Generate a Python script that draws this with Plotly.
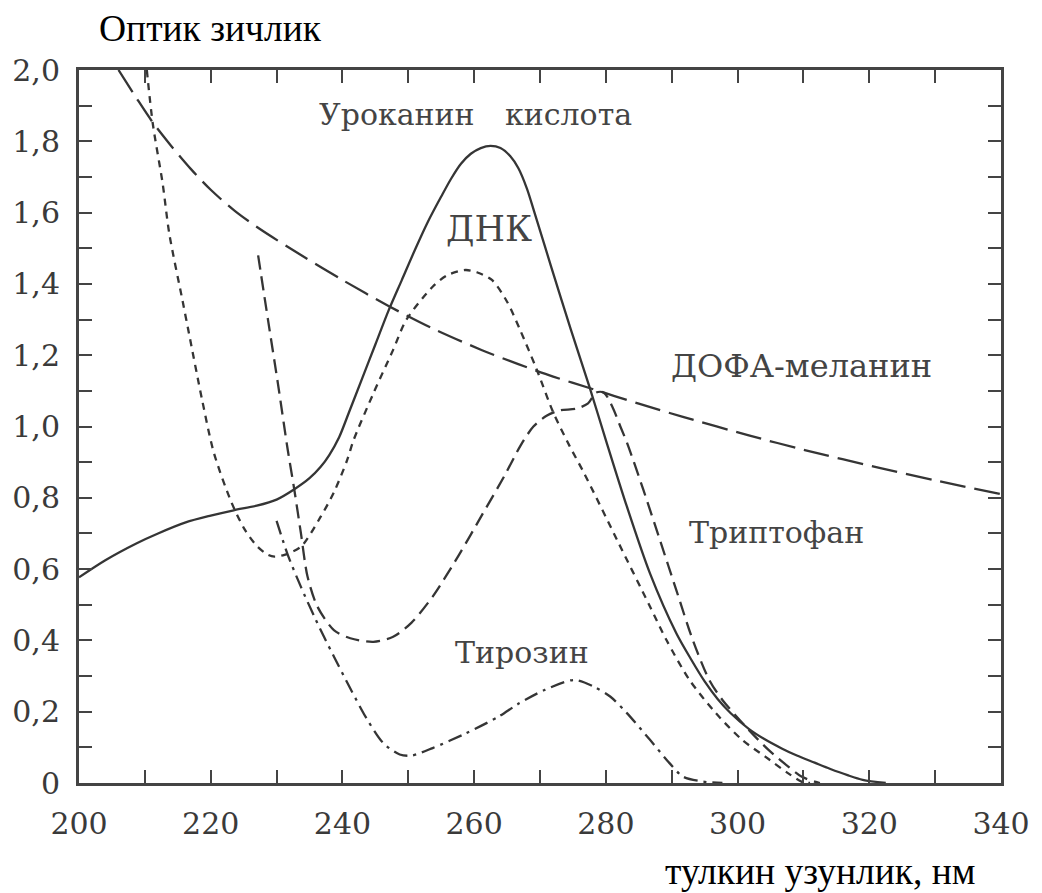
import plotly.graph_objects as go

# ---- data (wavelength nm, optical density) ----
uro_x = [200, 204, 208.7, 212, 216.2, 220, 223.5, 227, 230, 232.7, 235, 236.7, 238, 239.5, 241, 243, 245, 247, 249,
         251, 253, 255, 256.5, 258, 259.5, 261, 262.5, 264, 265.5, 266.7, 268, 269.2, 271.7, 274.7, 277.5, 280,
         283.2, 286.7, 290.7, 293, 295, 297, 299, 301.7, 304, 306.7, 309, 311.7, 314, 316.7, 319, 322.5]
uro_y = [0.577, 0.625, 0.672, 0.70, 0.731, 0.75, 0.765, 0.778, 0.795, 0.824, 0.855, 0.887, 0.92, 0.97, 1.04, 1.135,
         1.23, 1.325, 1.41, 1.495, 1.575, 1.645, 1.695, 1.737, 1.765, 1.781, 1.787, 1.781, 1.758, 1.725, 1.668,
         1.598, 1.448, 1.271, 1.112, 0.962, 0.775, 0.588, 0.42, 0.345, 0.285, 0.235, 0.195, 0.152, 0.124, 0.097,
         0.077, 0.057, 0.04, 0.022, 0.009, 0.0]

dna_x = [210.3, 211.2, 212.7, 213.7, 215.7, 216.7, 218.7, 220.5, 223.2, 225.2, 227, 228.7, 229.7, 231.2, 233.7, 236.7,
         238.7, 240.7, 241.7, 244.7, 247.7, 249.7, 253.7, 256, 258.7, 260.5, 262.7, 265, 267, 269.5, 272, 274.5,
         276.7, 281.7, 286.7, 289.2, 292.7, 296.7, 300.7, 304.2, 307.7, 309.7, 311]
dna_y = [2.0, 1.85, 1.682, 1.542, 1.355, 1.261, 1.074, 0.925, 0.785, 0.71, 0.665, 0.64, 0.635, 0.64, 0.663, 0.747,
         0.815, 0.905, 0.962, 1.093, 1.215, 1.299, 1.392, 1.425, 1.439, 1.432, 1.411, 1.35, 1.27, 1.16, 1.04, 0.945,
         0.869, 0.682, 0.495, 0.401, 0.289, 0.196, 0.121, 0.074, 0.027, 0.004, 0.0]

trp_x = [227.2, 228.7, 230.2, 231.7, 232.7, 233.7, 234.7, 236.2, 238.7, 241.2, 244.7, 247.7, 250.5, 253.7, 257.7,
         261.2, 264.7, 267, 269, 271, 273, 275.5, 277.3, 278.5, 279.7, 281, 282.2, 283.2, 285.7, 288.2, 290.7, 293.2,
         295.7, 297.7, 301.7, 304.7, 307.7, 309.7, 311.7, 312.5]
trp_y = [1.48, 1.299, 1.121, 0.934, 0.822, 0.70, 0.579, 0.495, 0.429, 0.406, 0.396, 0.41, 0.45, 0.523, 0.64,
         0.752, 0.865, 0.945, 1.0, 1.03, 1.045, 1.05, 1.065, 1.095, 1.095, 1.055, 1.0, 0.955, 0.822, 0.682, 0.541,
         0.401, 0.289, 0.233, 0.149, 0.093, 0.046, 0.018, 0.004, 0.0]

tyr_x = [230, 231.7, 233.7, 235.7, 237.2, 238.7, 241.2, 243.7, 246.2, 248.7, 250.5, 253.7, 258.7, 263.7, 266.7, 270.7,
         275.2, 278.2, 280.7, 283.2, 286.7, 289.7, 291.7, 294.7, 297.7]
tyr_y = [0.735, 0.64, 0.55, 0.468, 0.41, 0.355, 0.265, 0.18, 0.112, 0.08, 0.077, 0.098, 0.139, 0.186, 0.222, 0.261,
         0.289, 0.27, 0.242, 0.196, 0.121, 0.055, 0.018, 0.004, 0.0]

dopa_x = [206, 208.7, 211.2, 214, 217, 220, 223.7, 227.7, 233.7, 240.1, 247, 253.7, 261.2, 266.7, 272, 277.5, 285,
          291.7, 301.7, 310.2, 321.7, 330, 340]
dopa_y = [2.0, 1.922, 1.853, 1.787, 1.722, 1.664, 1.604, 1.551, 1.481, 1.41, 1.338, 1.275, 1.214, 1.175, 1.14,
          1.108, 1.064, 1.027, 0.975, 0.934, 0.883, 0.849, 0.81]

x_ticks = list(range(200, 341, 10))
x_ticktext = [str(v) if v % 20 == 0 else "" for v in x_ticks]
y_ticks = [round(i * 0.1, 1) for i in range(0, 21)]
y_ticktext = ["0" if i == 0 else (f"{i * 0.1:.1f}".replace(".", ",") if i % 2 == 0 else "") for i in range(0, 21)]

labels = [
    ("Уроканин", 248.3, 1.874, 30),
    ("кислота", 274.3, 1.874, 30),
    ("ДНК", 262.3, 1.554, 35),
    ("ДОФА-меланин", 309.7, 1.170, 32),
    ("Триптофан", 305.9, 0.704, 30),
    ("Тирозин", 267.2, 0.365, 30),
]

y_title = "Оптик зичлик"
x_title = "тулкин узунлик, нм"

LC = "#353535"
series = [
    (uro_x, uro_y, "solid", "Уроканин кислота"),
    (dna_x, dna_y, "7px,6px", "ДНК"),
    (trp_x, trp_y, "14px,7px", "Триптофан"),
    (tyr_x, tyr_y, "14px,6px,3px,6px", "Тирозин"),
    (dopa_x, dopa_y, "26px,9px", "ДОФА-меланин"),
]

fig = go.Figure()
for xs, ys, dash, name in series:
    fig.add_trace(go.Scatter(x=xs, y=ys, mode="lines", name=name,
                             line=dict(color=LC, width=2.3, dash=dash, shape="spline", smoothing=0.8)))

for text, x, y, size in labels:
    fig.add_annotation(x=x, y=y, xref="x", yref="y", text=text, showarrow=False,
                       font=dict(family="DejaVu Serif", size=size, color="#444444"),
                       xanchor="center", yanchor="middle")

fig.add_annotation(x=0.1429, y=1.058, xref="paper", yref="paper", text=y_title, showarrow=False,
                   font=dict(family="Liberation Serif", size=37.5, color="#000000"),
                   xanchor="center", yanchor="middle")
fig.add_annotation(x=0.804, y=-0.124, xref="paper", yref="paper", text=x_title, showarrow=False,
                   font=dict(family="Liberation Serif", size=37.5, color="#000000"),
                   xanchor="center", yanchor="middle")

axis_common = dict(showline=True, linewidth=3, linecolor="#444444", mirror="ticks", ticks="inside",
                   ticklen=13, tickwidth=2, tickcolor="#444444", showgrid=False, zeroline=False,
                   tickfont=dict(family="DejaVu Serif", size=30, color="#3a3a3a"))

fig.update_xaxes(range=[200, 340], tickmode="array", tickvals=x_ticks, ticktext=x_ticktext,
                 ticklabelstandoff=12, **axis_common)
fig.update_yaxes(range=[0, 2], tickmode="array", tickvals=y_ticks, ticktext=y_ticktext,
                 ticklabelstandoff=10, **axis_common)

fig.update_layout(width=1042, height=893, margin=dict(l=75, r=33, t=70, b=110),
                  paper_bgcolor="white", plot_bgcolor="white", showlegend=False)

fig.write_html("out.html")
